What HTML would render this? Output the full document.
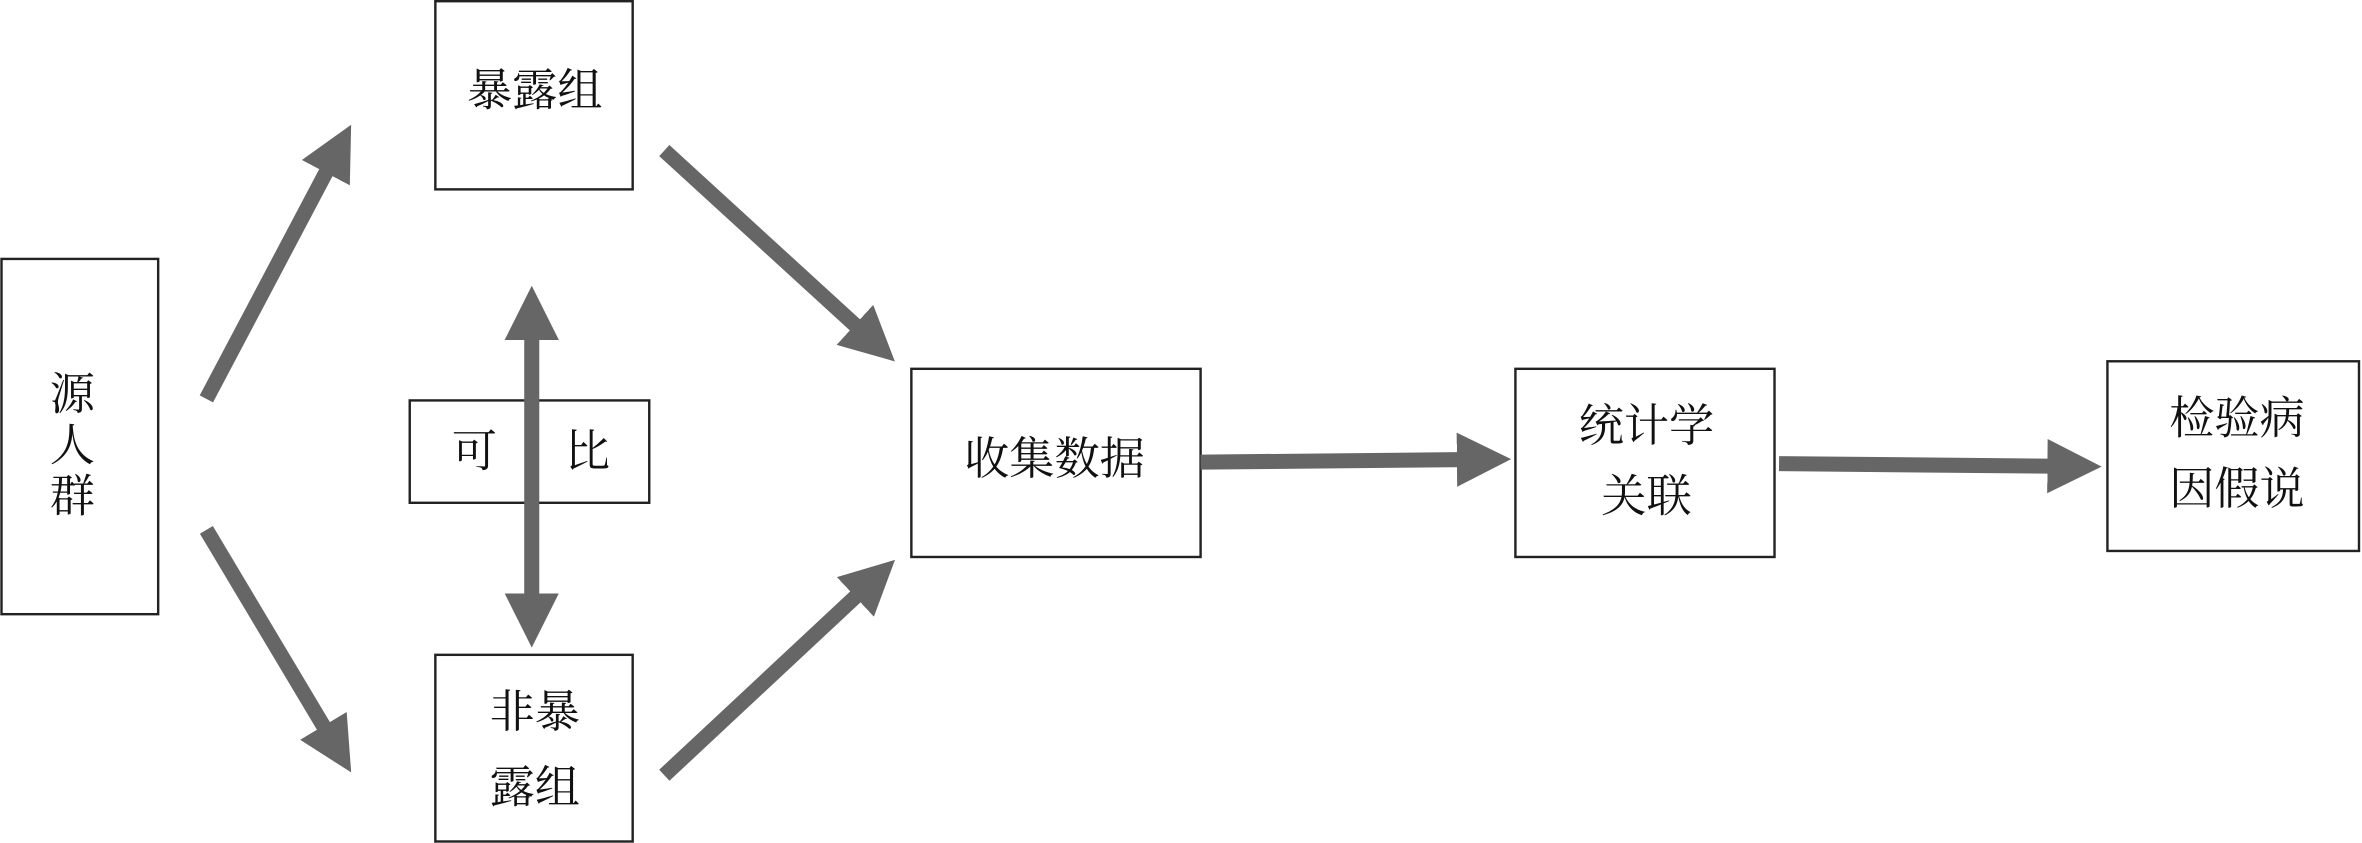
<!DOCTYPE html>
<html><head><meta charset="utf-8">
<style>
html,body{margin:0;padding:0;background:#fff;}
svg{display:block;}
text{font-family:"Liberation Serif","Noto Serif CJK SC","Noto Sans CJK SC",serif;font-size:30px;fill:#111;text-anchor:middle;dominant-baseline:central;}
rect{fill:#fff;stroke:#222;stroke-width:1.6;}
line{stroke:#666;stroke-width:10;}
</style></head>
<body>
<svg width="2362" height="843" viewBox="0 0 1568 560" preserveAspectRatio="none">
<defs>
<marker id="ah" viewBox="0 0 10 10" markerUnits="strokeWidth" markerWidth="3.6" markerHeight="3.8" refX="4.4" refY="5" orient="auto-start-reverse">
<path d="M0,0 L10,5 L0,10 z" fill="#666"/>
</marker>
</defs>
<!-- boxes -->
<rect x="1" y="172" width="104" height="236"/>
<rect x="289" y="0.8" width="131" height="125"/>
<rect x="289" y="435" width="131" height="124"/>
<rect x="605" y="245" width="192" height="125"/>
<rect x="1006" y="245" width="172" height="125"/>
<rect x="1399" y="240" width="167" height="126"/>
<rect x="272" y="266" width="159" height="68"/>

<!-- arrows -->
<line x1="137" y1="265" x2="223.7" y2="100.7" marker-end="url(#ah)"/>
<line x1="137" y1="352" x2="222.8" y2="495.8" marker-end="url(#ah)"/>
<line x1="441" y1="100" x2="579.2" y2="226.5" marker-end="url(#ah)"/>
<line x1="441" y1="515" x2="579.4" y2="385.7" marker-end="url(#ah)"/>
<line x1="353" y1="210" x2="353" y2="410" marker-start="url(#ah)" marker-end="url(#ah)"/>
<line x1="797" y1="307" x2="983" y2="305.2" marker-end="url(#ah)"/>
<line x1="1181" y1="308" x2="1375" y2="309.8" marker-end="url(#ah)"/>

<!-- labels -->
<text x="48" y="262">源</text>
<text x="48" y="296">人</text>
<text x="48" y="330">群</text>
<text x="355" y="60">暴露组</text>
<text x="315" y="300">可</text>
<text x="390" y="300">比</text>
<text x="355" y="473">非暴</text>
<text x="355" y="523">露组</text>
<text x="700" y="305">收集数据</text>
<text x="1093" y="283">统计学</text>
<text x="1093" y="330">关联</text>
<text x="1485" y="278">检验病</text>
<text x="1485" y="325">因假说</text>
</svg>
</body></html>
